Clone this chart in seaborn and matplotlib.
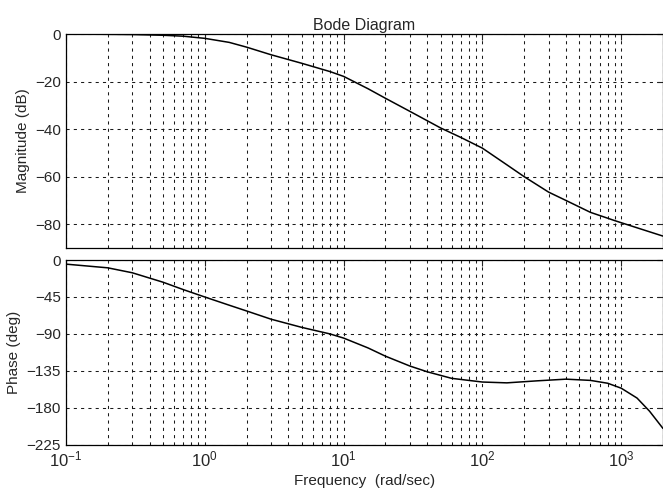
import matplotlib
matplotlib.use("Agg")
import matplotlib.pyplot as plt
import matplotlib.ticker as mticker
import pandas as pd
import seaborn as sns

# values
freq_mag = [0.1, 0.2, 0.3, 0.5, 0.7, 1.0, 1.5, 2.0, 3.0, 5.0, 8.0, 10, 15, 20, 30,
            50, 70, 100, 150, 200, 300, 400, 600, 900, 1300, 2000]
magnitude_db = [0, -0.1, -0.2, -0.5, -0.9, -1.8, -3.5, -5.5, -8.7, -12.3, -15.8, -17.8,
                -23, -27, -32.5, -39.5, -43.5, -48, -55, -60, -66.5, -70, -75, -78.5,
                -81.5, -85]

freq_phase = [0.1, 0.2, 0.3, 0.5, 0.7, 1.0, 1.5, 2.0, 3.0, 5.0, 8.0, 10, 15, 20, 30,
              40, 60, 100, 150, 250, 400, 600, 800, 1000, 1300, 1600, 2000]
phase_deg = [-5, -9.5, -15.5, -27, -36, -45, -55, -62, -72, -82, -90, -95, -107, -117,
             -129, -136, -144, -148.5, -149.5, -147, -145, -146.5, -150, -156, -168, -184,
             -205]

mag_ticks = [0, -20, -40, -60, -80]
phase_ticks = [0, -45, -90, -135, -180, -225]

mag = pd.DataFrame({"freq": freq_mag, "db": magnitude_db})
phase = pd.DataFrame({"freq": freq_phase, "deg": phase_deg})

sns.set_style("white")
plt.rcParams["font.family"] = ["Liberation Sans", "DejaVu Sans"]
plt.rcParams["mathtext.fontset"] = "custom"
plt.rcParams["mathtext.rm"] = "Liberation Sans"

fig = plt.figure(figsize=(6.63, 5.01), dpi=100)
ax1 = fig.add_axes([0.0995, 0.505, 0.9005, 0.427])
ax2 = fig.add_axes([0.0995, 0.112, 0.9005, 0.369])

sns.lineplot(data=mag, x="freq", y="db", ax=ax1, color="black", lw=1.1)
sns.lineplot(data=phase, x="freq", y="deg", ax=ax2, color="black", lw=1.1)

grid_kw = dict(color="0.1", linestyle=(0, (3, 4)), linewidth=0.75)
for ax, ticks, lims in [(ax1, mag_ticks, (-90, 0)), (ax2, phase_ticks, (-225, 0))]:
    ax.set_xscale("log")
    ax.set_xlim(0.1, 2000)
    ax.set_ylim(*lims)
    ax.set_yticks(ticks)
    ax.xaxis.set_minor_locator(mticker.LogLocator(base=10, subs=range(2, 10), numticks=20))
    ax.grid(True, which="major", **grid_kw)
    ax.grid(True, which="minor", axis="x", **grid_kw)
    ax.tick_params(direction="in", top=True, right=True, labelsize=11, length=4)
    ax.tick_params(which="minor", direction="in", top=True, length=2)
    for s in ax.spines.values():
        s.set_color("black")
        s.set_linewidth(0.9)

ax1.tick_params(labelbottom=False)
ax1.set_xlabel("")
ax1.set_ylabel("Magnitude (dB)", fontsize=11)
ax1.set_title("Bode Diagram", fontsize=11.5, pad=3)

ax2.set_ylabel("Phase (deg)", fontsize=11)
ax2.set_xlabel("Frequency  (rad/sec)", fontsize=11, labelpad=3)
ax2.tick_params(axis="x", labelsize=12)

fig.savefig("out.png", dpi=100)
